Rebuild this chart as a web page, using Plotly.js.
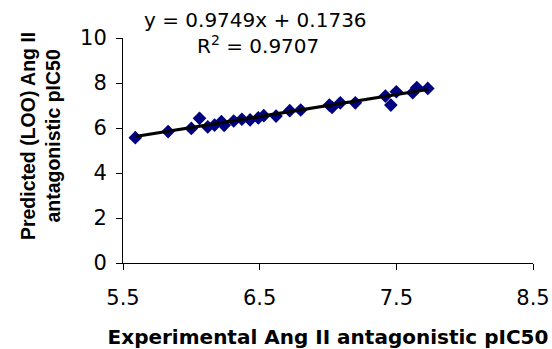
<!DOCTYPE html>
<html>
<head>
<meta charset="utf-8">
<script src="https://cdn.plot.ly/plotly-3.0.1.min.js"></script>
<style>html,body{margin:0;padding:0;background:#fff;}#chart{width:552px;height:349px;}</style>
</head>
<body>
<div id="chart"></div>
<script>
// Experimental vs predicted (LOO) pIC50
const experimental = [5.59, 5.83, 6.00, 6.06, 6.12, 6.17, 6.22, 6.24, 6.31, 6.37, 6.43, 6.49, 6.53, 6.62, 6.72, 6.80, 7.01, 7.03, 7.09, 7.20, 7.42, 7.46, 7.50, 7.62, 7.65, 7.73];
const predicted    = [5.57, 5.84, 5.98, 6.43, 6.05, 6.13, 6.28, 6.12, 6.31, 6.39, 6.36, 6.45, 6.55, 6.53, 6.77, 6.80, 7.02, 6.92, 7.12, 7.12, 7.42, 7.02, 7.61, 7.57, 7.80, 7.76];
const slope = 0.9749;
const intercept = 0.1736;
const rSquared = 0.9707;
const xTicks = [5.5, 6.5, 7.5, 8.5];
const yTicks = [0, 2, 4, 6, 8, 10];

const xMin = Math.min(...experimental), xMax = Math.max(...experimental);
const trendX = [xMin, xMax];
const trendY = trendX.map(v => slope * v + intercept);

const wide = 'DejaVu Sans, Verdana, sans-serif';
const narrow = 'Liberation Sans, Arial, sans-serif';
const data = [
  {x: experimental, y: predicted, type: 'scatter', mode: 'markers',
   marker: {symbol: 'diamond', size: 10.5, color: '#000080'}, hoverinfo: 'x+y'},
  {x: trendX, y: trendY, type: 'scatter', mode: 'lines',
   line: {color: '#000000', width: 3.2}}
];
const layout = {
  width: 552, height: 349,
  margin: {l: 123, r: 19, t: 38, b: 86},
  paper_bgcolor: '#ffffff', plot_bgcolor: '#ffffff',
  showlegend: false,
  font: {family: wide, size: 20, color: '#000000'},
  xaxis: {range: [5.5, 8.5], tickvals: xTicks, ticktext: xTicks.map(v => v.toFixed(1)),
    showgrid: false, zeroline: false, showline: true, linecolor: '#000', linewidth: 1,
    ticks: 'outside', ticklen: 6, tickcolor: '#000', ticklabelstandoff: 10,
    tickfont: {family: wide, size: 21},
    title: {text: '<b>Experimental Ang II antagonistic pIC50</b>', font: {family: wide, size: 20}, standoff: 20}},
  yaxis: {range: [0, 10], tickvals: yTicks, showgrid: false, zeroline: false, showline: true,
    linecolor: '#000', linewidth: 1, ticks: 'outside', ticklen: 6, tickcolor: '#000',
    ticklabelstandoff: 5, tickfont: {family: wide, size: 21}},
  annotations: [
    {xref: 'paper', yref: 'paper', x: -0.2024, y: 0.564, xanchor: 'center', yanchor: 'middle',
     textangle: -90, showarrow: false, font: {family: narrow, size: 19.5},
     text: '<b>Predicted (LOO) Ang II<br>antagonistic pIC50</b>'},
    {xref: 'paper', yref: 'paper', x: 0.324, y: 1.08, xanchor: 'center', yanchor: 'middle',
     showarrow: false, font: {family: wide, size: 20},
     text: 'y = ' + slope.toFixed(4) + 'x + ' + intercept.toFixed(4)},
    {xref: 'paper', yref: 'paper', x: 0.329, y: 0.969, xanchor: 'center', yanchor: 'middle',
     showarrow: false, font: {family: wide, size: 20},
     text: 'R<sup>2</sup> = ' + rSquared.toFixed(4)}
  ]
};
Plotly.newPlot('chart', data, layout, {staticPlot: true, displayModeBar: false});
</script>
</body>
</html>
